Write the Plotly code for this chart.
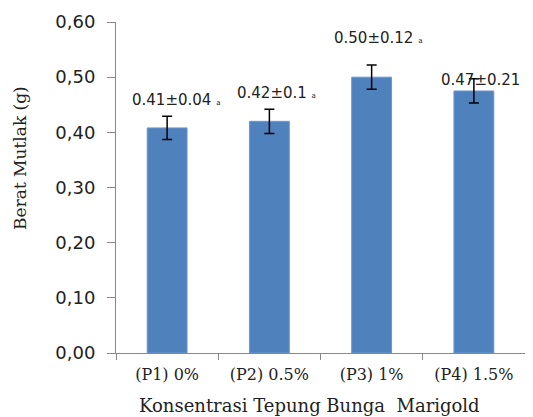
import plotly.graph_objects as go

categories = ["(P1) 0%", "(P2) 0.5%", "(P3) 1%", "(P4) 1.5%"]
values = [0.408, 0.420, 0.500, 0.475]
errors = [0.021, 0.022, 0.022, 0.022]
labels = ["0.41±0.04", "0.42±0.1", "0.50±0.12", "0.47±0.21"]
letters = ["a", "a", "a", "a"]
label_y = [0.459, 0.471, 0.571, 0.495]
label_shift = [-37, -34, -40, -35]

y_ticks = [0.0, 0.1, 0.2, 0.3, 0.4, 0.5, 0.6]
y_ticktext = ["0,00", "0,10", "0,20", "0,30", "0,40", "0,50", "0,60"]

fig = go.Figure()
fig.add_trace(go.Bar(
    x=categories, y=values,
    marker=dict(color="#4F81BD", line=dict(color="#6E97CC", width=1)),
    width=0.39,
    error_y=dict(type="data", array=errors, visible=True, color="black",
                 thickness=1.5, width=5),
))

for c, t, l, y, s in zip(categories, labels, letters, label_y, label_shift):
    fig.add_annotation(
        x=c, y=y, xref="x", yref="y", showarrow=False, xshift=s, xanchor="left",
        text=t + ' <span style="font-size:7px">' + l + '</span>',
        font=dict(family="DejaVu Sans", size=15, color="#222"),
    )

fig.add_annotation(
    text="Konsentrasi Tepung Bunga  Marigold", xref="paper", yref="paper",
    x=0.472, y=-0.160, xanchor="center", yanchor="middle", showarrow=False,
    font=dict(family="DejaVu Serif", size=18, color="#222"),
)
fig.add_annotation(
    text="Berat Mutlak (g)", xref="paper", yref="paper", textangle=-90,
    x=-0.235, y=0.589, xanchor="center", yanchor="middle", showarrow=False,
    font=dict(family="DejaVu Serif", size=17, color="#222"),
)

fig.update_layout(
    width=525, height=409,
    margin=dict(l=108, r=8, t=14, b=64, autoexpand=False),
    plot_bgcolor="white", paper_bgcolor="white",
    showlegend=False,
    xaxis=dict(
        showline=True, linecolor="#888", linewidth=1, automargin=False,
        ticks="outside", tickson="boundaries", ticklen=6, tickcolor="#888",
        ticklabelstandoff=7,
        tickfont=dict(family="DejaVu Serif", size=16, color="#222"),
        range=[-0.5, 3.5],
    ),
    yaxis=dict(
        range=[0, 0.6], showline=True, linecolor="#888", linewidth=1, automargin=False,
        ticks="outside", ticklen=8, tickcolor="#888", ticklabelstandoff=8,
        tickvals=y_ticks, ticktext=y_ticktext, showgrid=False, zeroline=False,
        tickfont=dict(family="DejaVu Sans", size=18, color="#222"),
    ),
)

fig.write_html("out.html")
